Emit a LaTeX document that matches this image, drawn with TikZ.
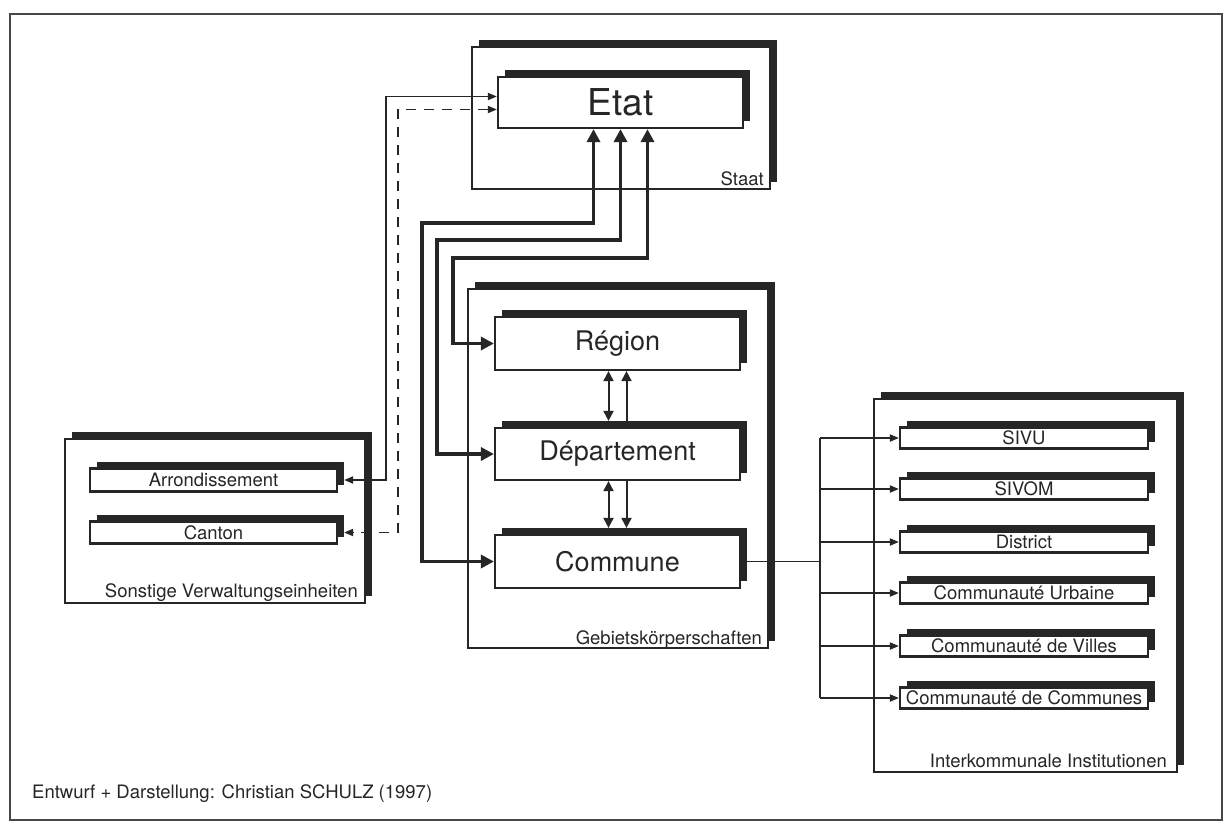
\documentclass[tikz,border=0pt]{standalone}
\usepackage{fontspec}
\setmainfont{TeX Gyre Heros}
\usetikzlibrary{shadows,arrows.meta,calc}
\definecolor{ink}{HTML}{262626}
\begin{document}
\begin{tikzpicture}[x=1pt,y=-1pt,
  shbox/.style={draw=ink, fill=white, inner sep=0pt, text=ink,
    drop shadow={shadow xshift=#1, shadow yshift=#1, fill=ink, opacity=1}},
  outerbox/.style={shbox=7pt, line width=1.5pt},
  innerbox/.style={shbox=7pt, line width=2.2pt},
  bigtxt/.style={font=\fontsize{37pt}{40pt}\selectfont},
  midtxt/.style={font=\fontsize{27pt}{30pt}\selectfont},
  smalltxt/.style={font=\fontsize{18.5pt}{20pt}\selectfont},
  lbl/.style={smalltxt, text=ink, inner sep=0pt},
  subbox/.style={innerbox, smalltxt, minimum width=248pt, minimum height=21pt},
  thickc/.style={draw=ink, line width=3.4pt,
    {Triangle[length=13pt,width=13pt]}-{Triangle[length=13pt,width=13pt]}},
  midc/.style={draw=ink, line width=2pt},
  tipmid/.tip={Triangle[length=10pt,width=10pt]},
  tipthin/.tip={Triangle[length=9pt,width=7pt]},
  thinc/.style={draw=ink, line width=1.8pt}
]
\useasboundingbox (0,0) rectangle (1230,828);
\fill[white] (0,0) rectangle (1230,828);
\draw[line width=1.4pt, draw=ink!85] (10,14) rectangle (1222,820);

% Staat
\node[outerbox, minimum width=298pt, minimum height=142pt] (staat) at (621,118) {};
\node[innerbox, bigtxt, minimum width=245pt, minimum height=51pt] (etat) at (620.5,102.5) {Etat};
\node[lbl, anchor=base east] (staatlbl) at (764,185) {Staat};

% Gebietskoerperschaften
\node[outerbox, minimum width=300pt, minimum height=359pt] (gebiet) at (618,468.5) {};
\node[innerbox, midtxt, minimum width=245pt, minimum height=53pt] (region) at (617.5,343.5) {Région};
\node[innerbox, midtxt, minimum width=245pt, minimum height=52pt] (dept) at (617.5,454) {Département};
\node[innerbox, midtxt, minimum width=245pt, minimum height=53pt] (commune) at (617.5,561.5) {Commune};
\node[lbl, anchor=base east] (gebietlbl) at (762,644) {Gebietskörperschaften};

% Sonstige
\node[outerbox, minimum width=300pt, minimum height=164pt] (sonst) at (215,521) {};
\node[innerbox, smalltxt, minimum width=247pt, minimum height=23pt] (arr) at (213.5,480) {Arrondissement};
\node[innerbox, smalltxt, minimum width=247pt, minimum height=22pt] (canton) at (213.5,532.5) {Canton};
\node[lbl, anchor=base east] (sonstlbl) at (358,597) {Sonstige Verwaltungseinheiten};

% Interkommunale
\node[outerbox, minimum width=303pt, minimum height=373pt] (inter) at (1025.5,585.5) {};
\node[subbox] (sivu) at (1024,438) {SIVU};
\node[subbox] (sivom) at (1024,489) {SIVOM};
\node[subbox] (district) at (1024,542) {District};
\node[subbox] (cu) at (1024,593) {Communauté Urbaine};
\node[subbox] (cv) at (1024,646) {Communauté de Villes};
\node[subbox] (cdc) at (1024,698) {Communauté de Communes};
\node[lbl, anchor=base east] (interlbl) at (1167,767) {Interkommunale Institutionen};

% footer
\node[lbl, anchor=base west] (footer) at (32,798) {Entwurf + Darstellung: Christian SCHULZ (1997)};

% thick connectors Etat <-> Gebietskoerperschaften
\draw[thickc] ($(etat.south)+(-27,0)$) |- (422,223) |- (commune.west);
\draw[thickc] (etat.south) |- (437,240) |- (dept.west);
\draw[thickc] ($(etat.south)+(27,0)$) |- (453,258) |- (region.west);

% thin connectors Etat <-> Sonstige
\coordinate (vl) at (386,0);
\coordinate (vd) at (398,0);
\draw[thinc, tipthin-tipthin] ($(etat.west)+(0,-6)$) -| (vl |- arr.east) -- ($(arr.east)+(6,0)$);
\draw[thinc, dash pattern=on 10pt off 8pt, tipthin-tipthin] ($(etat.west)+(0,7)$) -| (vd |- canton.east) -- ($(canton.east)+(6,0)$);

% Region / Departement / Commune
\draw[midc, tipmid-tipmid] ($(region.south)+(-9,0)$) -- ($(dept.north)+(-9,-6)$);
\draw[midc, -tipmid] ($(dept.north)+(9,-6)$) -- ($(region.south)+(9,0)$);
\draw[midc, tipmid-tipmid] ($(dept.south)+(-9,0)$) -- ($(commune.north)+(-9,-6)$);
\draw[midc, -tipmid] ($(dept.south)+(9,0)$) -- ($(commune.north)+(9,-6)$);

% Commune -> Interkommunale
\coordinate (bus) at (820,0);
\draw[thinc] (commune.east) -- (bus |- commune.east);
\draw[thinc] (bus |- sivu.west) -- (bus |- cdc.west);
\foreach \n in {sivu,sivom,district,cu,cv,cdc}
  \draw[thinc, -tipthin] (bus |- \n.west) -- (\n.west);
\end{tikzpicture}
\end{document}
